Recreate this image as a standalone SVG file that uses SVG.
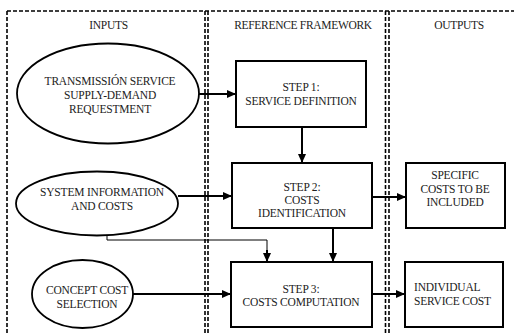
<svg xmlns="http://www.w3.org/2000/svg" width="514" height="333" viewBox="0 0 514 333">
  <style>
    .panel { fill: none; stroke: #000; stroke-width: 1.6; stroke-dasharray: 4 2; }
    .node { fill: #fff; stroke: #000; stroke-width: 2; }
    .ell { fill: #fff; stroke: #000; stroke-width: 1.8; }
    .conn { fill: none; stroke: #000; stroke-width: 2; }
    .thin { fill: none; stroke: #000; stroke-width: 1; }
    text { font-size: 11.5px; fill: #222; text-anchor: middle; letter-spacing: -0.2px; }
    .start { text-anchor: start; }
  </style>
  <defs>
    <marker id="arrow" markerWidth="10" markerHeight="8" refX="9" refY="4" orient="auto" markerUnits="userSpaceOnUse">
      <path d="M0,0 L9,4 L0,8 Z" fill="#000"/>
    </marker>
  </defs>

  <g font-family="'Liberation Serif', Tinos, 'Times New Roman', 'DejaVu Serif', serif">
  <!-- panel frames -->
  <g id="panels">
    <line class="panel" x1="7" y1="11" x2="514" y2="11"/>
    <line class="panel" x1="7" y1="11" x2="7" y2="333"/>
    <line class="panel" x1="205" y1="11" x2="205" y2="333"/>
    <line class="panel" x1="208" y1="11" x2="208" y2="333"/>
    <line class="panel" x1="385.5" y1="11" x2="385.5" y2="333"/>
    <line class="panel" x1="389" y1="11" x2="389" y2="333"/>
    <text x="108.5" y="29" style="letter-spacing:-0.3px">INPUTS</text>
    <text x="303" y="29" style="letter-spacing:-0.3px">REFERENCE FRAMEWORK</text>
    <text x="459" y="29" style="letter-spacing:-0.3px">OUTPUTS</text>
  </g>

  <!-- connectors -->
  <g id="connectors">
    <line class="conn" x1="199" y1="94" x2="236" y2="94" marker-end="url(#arrow)"/>
    <line class="conn" x1="302" y1="127" x2="302" y2="163" marker-end="url(#arrow)"/>
    <line class="conn" x1="178" y1="196" x2="232" y2="196" marker-end="url(#arrow)"/>
    <polyline class="thin" points="107,235 107,240 267,240 267,252"/>
    <line class="conn" x1="267" y1="250" x2="267" y2="262" marker-end="url(#arrow)"/>
    <line class="conn" x1="333" y1="228" x2="333" y2="262" marker-end="url(#arrow)"/>
    <line class="conn" x1="133" y1="294" x2="231" y2="294" marker-end="url(#arrow)"/>
    <line class="conn" x1="372" y1="197" x2="406" y2="197" marker-end="url(#arrow)"/>
    <line class="conn" x1="372" y1="294" x2="405" y2="294" marker-end="url(#arrow)"/>
  </g>

  <g id="input-request">
    <ellipse class="ell" cx="108" cy="93.5" rx="91" ry="50"/>
    <text x="110" y="85">TRANSMISSIÓN SERVICE</text>
    <text x="110" y="99">SUPPLY-DEMAND</text>
    <text x="110" y="113">REQUESTMENT</text>
  </g>

  <g id="input-system">
    <ellipse class="ell" cx="97" cy="203.5" rx="81" ry="32"/>
    <text x="102" y="196">SYSTEM INFORMATION</text>
    <text x="102" y="210">AND COSTS</text>
  </g>

  <g id="input-concept">
    <ellipse class="ell" cx="82.5" cy="294" rx="50.5" ry="34"/>
    <text x="87" y="294">CONCEPT COST</text>
    <text x="87" y="308">SELECTION</text>
  </g>

  <g id="step1">
    <rect class="node" x="236" y="61" width="130" height="66"/>
    <text x="301" y="91">STEP 1:</text>
    <text x="301" y="105">SERVICE DEFINITION</text>
  </g>

  <g id="step2">
    <rect class="node" x="232" y="163" width="140" height="65"/>
    <text x="302" y="190.5">STEP 2:</text>
    <text x="302" y="203.5">COSTS</text>
    <text x="302" y="216.5">IDENTIFICATION</text>
  </g>

  <g id="step3">
    <rect class="node" x="231" y="262" width="141" height="65"/>
    <text x="301" y="292.5">STEP 3:</text>
    <text x="301" y="305.5">COSTS COMPUTATION</text>
  </g>

  <g id="output-specific">
    <rect class="node" x="406" y="163" width="99" height="65"/>
    <text x="455" y="179">SPECIFIC</text>
    <text x="455" y="192.5">COSTS TO BE</text>
    <text x="455" y="206">INCLUDED</text>
  </g>

  <g id="output-individual">
    <rect class="node" x="405" y="262" width="98" height="65"/>
    <text class="start" x="414" y="291">INDIVIDUAL</text>
    <text class="start" x="414" y="305">SERVICE COST</text>
  </g>
  </g>
</svg>
